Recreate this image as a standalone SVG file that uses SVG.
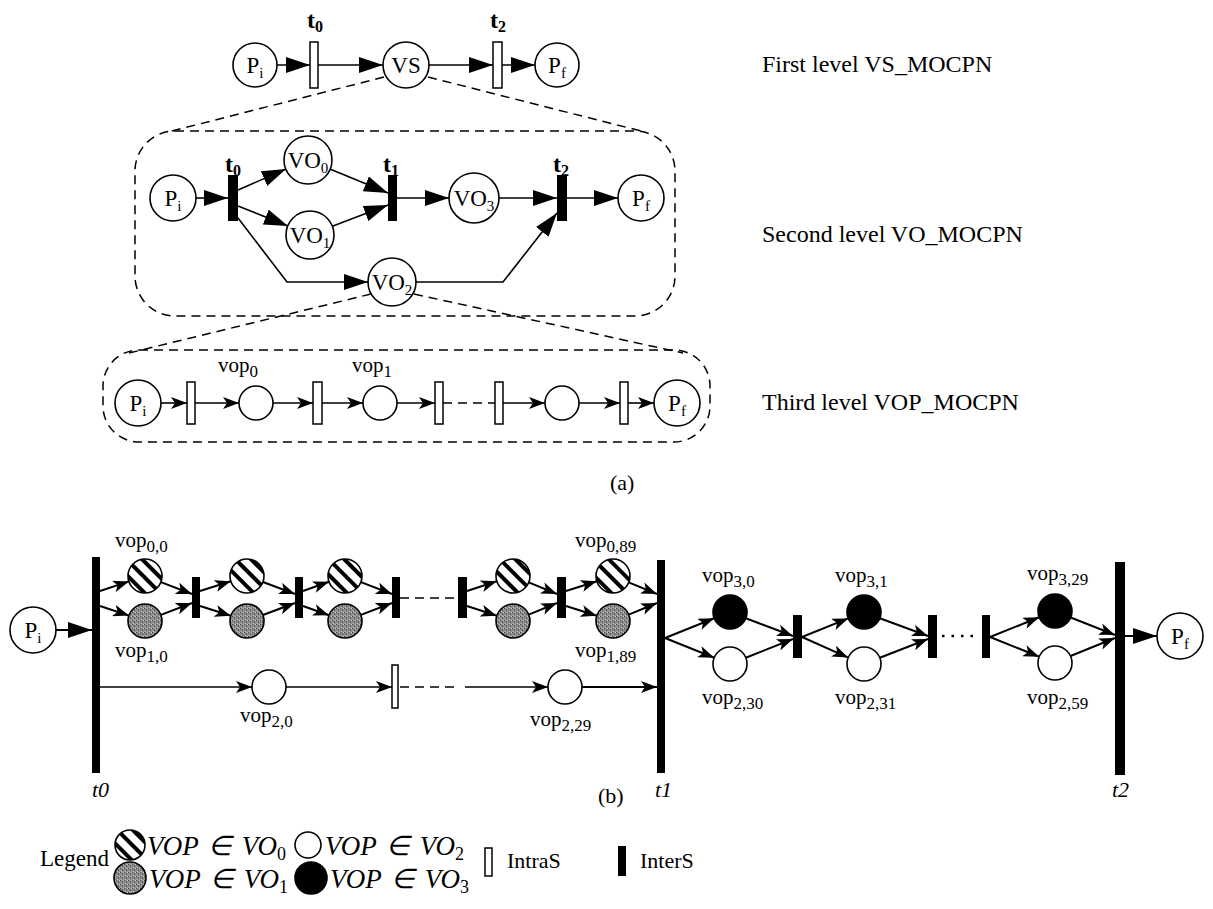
<svg xmlns="http://www.w3.org/2000/svg" width="1213" height="909" viewBox="0 0 1213 909">
<style>
text{font-family:"Liberation Serif","Times New Roman",serif;fill:#000}
.ln{stroke:#000;stroke-width:1.6;fill:none}
.lb{stroke:#000;stroke-width:2;fill:none}
.c{fill:#fff;stroke:#000;stroke-width:1.6}
.bw{fill:#fff;stroke:#000;stroke-width:1.5}
.bb{fill:#000}
.dash{stroke:#000;stroke-width:1.5;fill:none;stroke-dasharray:9 6}
.st{fill:url(#stripes);stroke:#000;stroke-width:1.6}
.gr{fill:url(#gray);stroke:#000;stroke-width:1.6}
.bk{fill:#000;stroke:#000;stroke-width:1.6}
.cl{font-size:23px;text-anchor:middle}
.tl{font-size:24px;font-weight:bold;text-anchor:middle}
.vl{font-size:21px}
.lv{font-size:24px}
.it{font-size:22px;font-style:italic}
.lg{font-size:27px;font-style:italic;word-spacing:3px}
.sub{font-style:normal}
</style>
<defs>
<pattern id="stripes" patternUnits="userSpaceOnUse" width="11" height="11" patternTransform="rotate(-45)">
<rect width="11" height="11" fill="#fff"/><rect width="4" height="11" fill="#000"/>
</pattern>
<pattern id="gray" patternUnits="userSpaceOnUse" width="4" height="4">
<rect width="4" height="4" fill="#8e8e8e"/><rect x="0" y="0" width="1" height="1" fill="#444"/><rect x="2" y="2" width="1" height="1" fill="#555"/><rect x="3" y="0" width="1" height="1" fill="#c8c8c8"/><rect x="1" y="3" width="1" height="1" fill="#bbb"/><rect x="2" y="1" width="1" height="1" fill="#666"/>
</pattern>
<marker id="aL" viewBox="0 0 24 16" refX="24" refY="8" markerWidth="24" markerHeight="16" markerUnits="userSpaceOnUse" orient="auto"><path d="M0,0 L24,8 L0,16 Z"/></marker>
<marker id="aS" viewBox="0 0 16 12" refX="16" refY="6" markerWidth="16" markerHeight="12" markerUnits="userSpaceOnUse" orient="auto"><path d="M0,0 L16,6 L0,12 L4,6 Z"/></marker>
</defs>
<rect width="1213" height="909" fill="#fff"/>

<!-- level boxes and zoom diagonals -->
<g id="frames">
<rect class="dash" x="135" y="131" width="540" height="185" rx="40"/>
<rect class="dash" x="103" y="350" width="607" height="92" rx="36"/>
<line class="dash" x1="384" y1="77" x2="168" y2="132"/>
<line class="dash" x1="428" y1="77" x2="645" y2="132"/>
<line class="dash" x1="371" y1="294" x2="125" y2="354"/>
<line class="dash" x1="414" y1="294" x2="683" y2="353"/>
</g>

<g id="connectors">
<!-- top level -->
<line class="ln" x1="277" y1="65" x2="310" y2="65" marker-end="url(#aL)"/>
<line class="ln" x1="318" y1="65" x2="383" y2="65" marker-end="url(#aL)"/>
<line class="ln" x1="429" y1="65" x2="493" y2="65" marker-end="url(#aL)"/>
<line class="ln" x1="502" y1="65" x2="535" y2="65" marker-end="url(#aL)"/>
<!-- second level -->
<line class="ln" x1="196" y1="198" x2="228" y2="198" marker-end="url(#aL)"/>
<line class="ln" x1="238" y1="190" x2="286" y2="169" marker-end="url(#aL)"/>
<line class="ln" x1="238" y1="206" x2="288" y2="226" marker-end="url(#aL)"/>
<polyline class="ln" points="238,218 287,282 368,282" marker-end="url(#aL)"/>
<line class="ln" x1="330" y1="169" x2="388" y2="193" marker-end="url(#aL)"/>
<line class="ln" x1="333" y1="226" x2="388" y2="205" marker-end="url(#aL)"/>
<line class="ln" x1="397" y1="198" x2="449" y2="198" marker-end="url(#aL)"/>
<line class="ln" x1="499" y1="198" x2="557" y2="198" marker-end="url(#aL)"/>
<line class="ln" x1="567" y1="198" x2="618" y2="198" marker-end="url(#aL)"/>
<polyline class="ln" points="416,282 503,282 557,213" marker-end="url(#aL)"/>
<!-- third level -->
<line class="ln" x1="161" y1="403" x2="187" y2="403" marker-end="url(#aS)"/>
<line class="ln" x1="195" y1="403" x2="239" y2="403" marker-end="url(#aS)"/>
<line class="ln" x1="273" y1="403" x2="313" y2="403" marker-end="url(#aS)"/>
<line class="ln" x1="322" y1="403" x2="363" y2="403" marker-end="url(#aS)"/>
<line class="ln" x1="397" y1="403" x2="435" y2="403" marker-end="url(#aS)"/>
<line class="dash" x1="443" y1="403" x2="495" y2="403"/>
<line class="ln" x1="503" y1="403" x2="545" y2="403" marker-end="url(#aS)"/>
<line class="ln" x1="579" y1="403" x2="620" y2="403" marker-end="url(#aS)"/>
<line class="ln" x1="628" y1="403" x2="654" y2="403" marker-end="url(#aS)"/>
<!-- part b -->
<line class="lb" x1="56" y1="630" x2="92" y2="630" marker-end="url(#aL)"/>
<line class="lb" x1="100" y1="591" x2="129" y2="581.4" marker-end="url(#aS)"/>
<line class="lb" x1="100" y1="606" x2="129" y2="615.6" marker-end="url(#aS)"/>
<line class="lb" x1="160.9" y1="582.1" x2="192" y2="594" marker-end="url(#aS)"/>
<line class="lb" x1="160.9" y1="614.9" x2="192" y2="603" marker-end="url(#aS)"/>
<line class="lb" x1="200" y1="591" x2="230.8" y2="581.2" marker-end="url(#aS)"/>
<line class="lb" x1="200" y1="606" x2="230.8" y2="615.8" marker-end="url(#aS)"/>
<line class="lb" x1="262.9" y1="582" x2="295" y2="594" marker-end="url(#aS)"/>
<line class="lb" x1="262.9" y1="615" x2="295" y2="603" marker-end="url(#aS)"/>
<line class="lb" x1="303" y1="591" x2="329" y2="581.7" marker-end="url(#aS)"/>
<line class="lb" x1="303" y1="606" x2="329" y2="615.3" marker-end="url(#aS)"/>
<line class="lb" x1="360.9" y1="582.1" x2="392" y2="594" marker-end="url(#aS)"/>
<line class="lb" x1="360.9" y1="614.9" x2="392" y2="603" marker-end="url(#aS)"/>
<line class="dash" x1="400" y1="598" x2="458" y2="598"/>
<line class="lb" x1="467" y1="591" x2="496.8" y2="581.3" marker-end="url(#aS)"/>
<line class="lb" x1="467" y1="606" x2="496.8" y2="615.7" marker-end="url(#aS)"/>
<line class="lb" x1="528.7" y1="582.4" x2="557" y2="594" marker-end="url(#aS)"/>
<line class="lb" x1="528.7" y1="614.6" x2="557" y2="603" marker-end="url(#aS)"/>
<line class="lb" x1="566" y1="591" x2="596.8" y2="581.2" marker-end="url(#aS)"/>
<line class="lb" x1="566" y1="606" x2="596.8" y2="615.8" marker-end="url(#aS)"/>
<line class="lb" x1="628.7" y1="582.4" x2="657" y2="594" marker-end="url(#aS)"/>
<line class="lb" x1="628.7" y1="614.6" x2="657" y2="603" marker-end="url(#aS)"/>
<line class="ln" x1="100" y1="687" x2="252" y2="687" marker-end="url(#aS)"/>
<line class="ln" x1="286" y1="687" x2="392" y2="687" marker-end="url(#aS)"/>
<line class="dash" x1="400" y1="687" x2="458" y2="687"/>
<line class="ln" x1="465" y1="687" x2="548" y2="687" marker-end="url(#aS)"/>
<line class="lb" x1="582" y1="687" x2="657" y2="687" marker-end="url(#aS)"/>
<line class="lb" x1="665" y1="638" x2="714.2" y2="618.3" marker-end="url(#aS)"/>
<line class="lb" x1="665" y1="638" x2="714.2" y2="657.7" marker-end="url(#aS)"/>
<line class="lb" x1="745.8" y1="618.3" x2="793" y2="636" marker-end="url(#aS)"/>
<line class="lb" x1="745.8" y1="657.7" x2="793" y2="639" marker-end="url(#aS)"/>
<line class="lb" x1="802" y1="637" x2="848.2" y2="618.4" marker-end="url(#aS)"/>
<line class="lb" x1="802" y1="637" x2="848.2" y2="657.6" marker-end="url(#aS)"/>
<line class="lb" x1="879.8" y1="618.2" x2="928" y2="636" marker-end="url(#aS)"/>
<line class="lb" x1="879.8" y1="657.8" x2="928" y2="639" marker-end="url(#aS)"/>
<line stroke="#000" stroke-width="2.5" stroke-dasharray="2.5 7" x1="942" y1="636" x2="980" y2="636"/>
<line class="lb" x1="990" y1="637" x2="1039.2" y2="617.3" marker-end="url(#aS)"/>
<line class="lb" x1="990" y1="637" x2="1039.2" y2="656.7" marker-end="url(#aS)"/>
<line class="lb" x1="1070.7" y1="617.5" x2="1115" y2="635" marker-end="url(#aS)"/>
<line class="lb" x1="1070.5" y1="656" x2="1115" y2="638" marker-end="url(#aS)"/>
<line class="lb" x1="1125" y1="636" x2="1157" y2="636" marker-end="url(#aL)"/>
</g>

<!-- ===== first level ===== -->
<g id="l1-Pi"><circle class="c" cx="255" cy="65" r="22"/><text class="cl" x="255" y="73">P<tspan font-size="15" dy="5">i</tspan></text></g>
<g id="l1-t0"><rect class="bw" x="310" y="42" width="8" height="46"/><text class="tl" x="315" y="28">t<tspan font-size="16" dy="4">0</tspan></text></g>
<g id="l1-VS"><circle class="c" cx="406" cy="65" r="23"/><text class="cl" x="406" y="73">VS</text></g>
<g id="l1-t2"><rect class="bw" x="493" y="42" width="9" height="46"/><text class="tl" x="498" y="28">t<tspan font-size="16" dy="4">2</tspan></text></g>
<g id="l1-Pf"><circle class="c" cx="557" cy="65" r="22"/><text class="cl" x="557" y="73">P<tspan font-size="15" dy="5">f</tspan></text></g>

<!-- ===== second level ===== -->
<g id="l2-Pi"><circle class="c" cx="173" cy="198" r="23"/><text class="cl" x="173" y="206">P<tspan font-size="15" dy="5">i</tspan></text></g>
<g id="l2-t0"><rect class="bb" x="228" y="175" width="10" height="46"/><text class="tl" x="233" y="172">t<tspan font-size="16" dy="4">0</tspan></text></g>
<g id="l2-VO0"><circle class="c" cx="308" cy="160" r="24"/><text class="cl" x="308" y="168" font-size="22">VO<tspan font-size="15" dy="5">0</tspan></text></g>
<g id="l2-VO1"><circle class="c" cx="310" cy="235" r="24"/><text class="cl" x="310" y="243" font-size="22">VO<tspan font-size="15" dy="5">1</tspan></text></g>
<g id="l2-t1"><rect class="bb" x="388" y="175" width="9" height="46"/><text class="tl" x="391" y="172">t<tspan font-size="16" dy="4">1</tspan></text></g>
<g id="l2-VO2"><circle class="c" cx="392" cy="282" r="24"/><text class="cl" x="392" y="290" font-size="22">VO<tspan font-size="15" dy="5">2</tspan></text></g>
<g id="l2-VO3"><circle class="c" cx="474" cy="198" r="25"/><text class="cl" x="474" y="206" font-size="22">VO<tspan font-size="15" dy="5">3</tspan></text></g>
<g id="l2-t2"><rect class="bb" x="557" y="175" width="10" height="46"/><text class="tl" x="561" y="172">t<tspan font-size="16" dy="4">2</tspan></text></g>
<g id="l2-Pf"><circle class="c" cx="641" cy="198" r="23"/><text class="cl" x="641" y="206">P<tspan font-size="15" dy="5">f</tspan></text></g>

<!-- ===== third level ===== -->
<g id="l3-Pi"><circle class="c" cx="138" cy="403" r="23"/><text class="cl" x="138" y="411">P<tspan font-size="15" dy="5">i</tspan></text></g>
<g id="l3-b1"><rect class="bw" x="187" y="382" width="8" height="42"/></g>
<g id="l3-vop0"><circle class="c" cx="256" cy="403" r="17"/><text class="vl" x="218" y="372">vop<tspan font-size="17" dy="5">0</tspan></text></g>
<g id="l3-b2"><rect class="bw" x="313" y="382" width="9" height="42"/></g>
<g id="l3-vop1"><circle class="c" cx="380" cy="403" r="17"/><text class="vl" x="352" y="372">vop<tspan font-size="17" dy="5">1</tspan></text></g>
<g id="l3-b3"><rect class="bw" x="435" y="382" width="8" height="42"/></g>
<g id="l3-b4"><rect class="bw" x="495" y="382" width="8" height="42"/></g>
<g id="l3-vopn"><circle class="c" cx="562" cy="403" r="17"/></g>
<g id="l3-b5"><rect class="bw" x="620" y="382" width="8" height="42"/></g>
<g id="l3-Pf"><circle class="c" cx="677" cy="403" r="23"/><text class="cl" x="677" y="411">P<tspan font-size="15" dy="5">f</tspan></text></g>

<g id="level-labels">
<text class="lv" x="762" y="72">First level VS_MOCPN</text>
<text class="lv" x="762" y="242">Second level VO_MOCPN</text>
<text class="lv" x="762" y="410">Third level VOP_MOCPN</text>
<text font-size="22" x="610" y="490">(a)</text>
</g>

<!-- ===== part (b) ===== -->
<g id="b-Pi"><circle class="c" cx="33" cy="630" r="23"/><text class="cl" x="33" y="638">P<tspan font-size="15" dy="5">i</tspan></text></g>
<g id="b-t0"><rect class="bb" x="92" y="557" width="8" height="216"/><text class="it" x="92" y="797">t0</text></g>
<g id="b-pair0"><circle class="st" cx="145" cy="576" r="17"/><circle class="gr" cx="145" cy="621" r="17"/>
<text class="vl" x="115" y="547">vop<tspan font-size="17" dy="5">0,0</tspan></text>
<text class="vl" x="115" y="657">vop<tspan font-size="17" dy="5">1,0</tspan></text></g>
<g id="b-bar1"><rect class="bb" x="192" y="577" width="8" height="41"/></g>
<g id="b-pair1"><circle class="st" cx="247" cy="576" r="17"/><circle class="gr" cx="247" cy="621" r="17"/></g>
<g id="b-bar2"><rect class="bb" x="295" y="577" width="8" height="41"/></g>
<g id="b-pair2"><circle class="st" cx="345" cy="576" r="17"/><circle class="gr" cx="345" cy="621" r="17"/></g>
<g id="b-bar3"><rect class="bb" x="392" y="577" width="8" height="41"/></g>
<g id="b-bar4"><rect class="bb" x="458" y="577" width="9" height="41"/></g>
<g id="b-pair88"><circle class="st" cx="513" cy="576" r="17"/><circle class="gr" cx="513" cy="621" r="17"/></g>
<g id="b-bar5"><rect class="bb" x="557" y="577" width="9" height="41"/></g>
<g id="b-pair89"><circle class="st" cx="613" cy="576" r="17"/><circle class="gr" cx="613" cy="621" r="17"/>
<text class="vl" x="575" y="547">vop<tspan font-size="17" dy="5">0,89</tspan></text>
<text class="vl" x="575" y="657">vop<tspan font-size="17" dy="5">1,89</tspan></text></g>
<g id="b-vop20"><circle class="c" cx="269" cy="687" r="17"/><text class="vl" x="240" y="722">vop<tspan font-size="17" dy="5">2,0</tspan></text></g>
<g id="b-intra"><rect class="bw" x="392" y="665" width="6" height="43"/></g>
<g id="b-vop229"><circle class="c" cx="565" cy="687" r="17"/><text class="vl" x="530" y="726">vop<tspan font-size="17" dy="5">2,29</tspan></text></g>
<g id="b-t1"><rect class="bb" x="657" y="560" width="8" height="213"/><text class="it" x="655" y="797">t1</text></g>
<g id="b-pair30"><circle class="bk" cx="730" cy="612" r="17"/><circle class="c" cx="730" cy="664" r="17"/>
<text class="vl" x="702" y="582">vop<tspan font-size="17" dy="5">3,0</tspan></text>
<text class="vl" x="702" y="704">vop<tspan font-size="17" dy="5">2,30</tspan></text></g>
<g id="b-bar6"><rect class="bb" x="793" y="615" width="9" height="43"/></g>
<g id="b-pair31"><circle class="bk" cx="864" cy="612" r="17"/><circle class="c" cx="864" cy="664" r="17"/>
<text class="vl" x="835" y="582">vop<tspan font-size="17" dy="5">3,1</tspan></text>
<text class="vl" x="835" y="704">vop<tspan font-size="17" dy="5">2,31</tspan></text></g>
<g id="b-bar7"><rect class="bb" x="928" y="615" width="9" height="43"/></g>
<g id="b-bar8"><rect class="bb" x="982" y="615" width="8" height="43"/></g>
<g id="b-pair59"><circle class="bk" cx="1055" cy="611" r="17"/><circle class="c" cx="1055" cy="663" r="17"/>
<text class="vl" x="1027" y="580">vop<tspan font-size="17" dy="5">3,29</tspan></text>
<text class="vl" x="1027" y="704">vop<tspan font-size="17" dy="5">2,59</tspan></text></g>
<g id="b-t2"><rect class="bb" x="1115" y="562" width="10" height="213"/><text class="it" x="1112" y="797">t2</text></g>
<g id="b-Pf"><circle class="c" cx="1180" cy="636" r="23"/><text class="cl" x="1180" y="644">P<tspan font-size="15" dy="5">f</tspan></text></g>
<text font-size="22" x="598" y="803">(b)</text>

<!-- ===== legend ===== -->
<g id="legend">
<text font-size="23" x="40" y="866">Legend</text>
<circle class="st" cx="130" cy="845" r="15"/>
<text class="lg" x="147" y="855">VOP ∈ VO<tspan class="sub" font-size="18" dy="5">0</tspan></text>
<circle class="c" cx="308" cy="845" r="13"/>
<text class="lg" x="325" y="855">VOP ∈ VO<tspan class="sub" font-size="18" dy="5">2</tspan></text>
<circle class="gr" cx="130" cy="878" r="16"/>
<text class="lg" x="149" y="888">VOP ∈ VO<tspan class="sub" font-size="18" dy="5">1</tspan></text>
<circle class="bk" cx="311" cy="878" r="16"/>
<text class="lg" x="330" y="888">VOP ∈ VO<tspan class="sub" font-size="18" dy="5">3</tspan></text>
<rect class="bw" x="485" y="848" width="7" height="28"/>
<text font-size="22" x="507" y="868">IntraS</text>
<rect class="bb" x="618" y="846" width="8" height="30"/>
<text font-size="22" x="640" y="868">InterS</text>
</g>
</svg>
